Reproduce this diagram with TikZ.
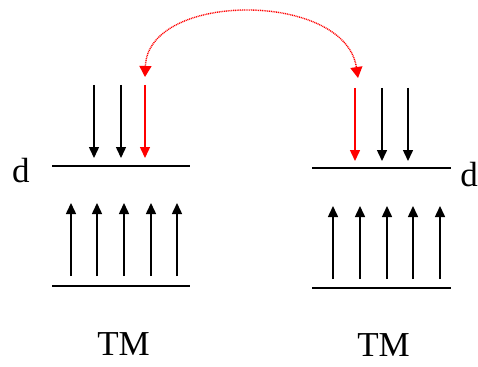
\documentclass[tikz,border=0pt]{standalone}
\usepackage{fontspec}
\setmainfont{Liberation Serif}
\usepackage{tikz}
\usetikzlibrary{arrows.meta}

\begin{document}
\begin{tikzpicture}[x=1pt, y=-1pt,
    lvl/.style={line width=2pt},
    spin/.style={line width=1.5pt, -{Triangle[width=10pt,length=11pt]}},
    lab/.style={font=\fontsize{35pt}{40pt}\selectfont, inner sep=0pt}]
  \useasboundingbox (0,0) rectangle (478,366);
  % left ion
  \draw[lvl] (52,166) -- (190,166);
  \draw[lvl] (52,286) -- (190,286);
  \foreach \x in {94,121} \draw[spin] (\x,85) -- (\x,158);
  \draw[spin, red] (145,85) -- (145,158);
  \foreach \x in {71,97,124,151,177} \draw[spin] (\x,276) -- (\x,203);
  \node[lab] (dL) at (21,171) {d};
  \node[lab] (tmL) at (123.5,344) {TM};
  % right ion
  \draw[lvl] (312,168) -- (451,168);
  \draw[lvl] (312,288) -- (451,288);
  \foreach \x in {382,408} \draw[spin] (\x,88) -- (\x,161);
  \draw[spin, red] (355,88) -- (355,161);
  \foreach \x in {333,360,387,413,440} \draw[spin] (\x,279) -- (\x,206);
  \node[lab] (dR) at (469,175) {d};
  \node[lab] (tmR) at (383.5,345) {TM};
  % exchange
  \coordinate (hopL) at (145,77);
  \coordinate (hopR) at (358,78);
  \draw[red, line width=1.4pt, dash pattern=on 1pt off 0.8pt,
        {Triangle[width=12pt,length=11pt]}-{Triangle[width=12pt,length=11pt]}]
    (hopL) .. controls (148,-9) and (345,-9) .. (hopR);
\end{tikzpicture}
\end{document}
